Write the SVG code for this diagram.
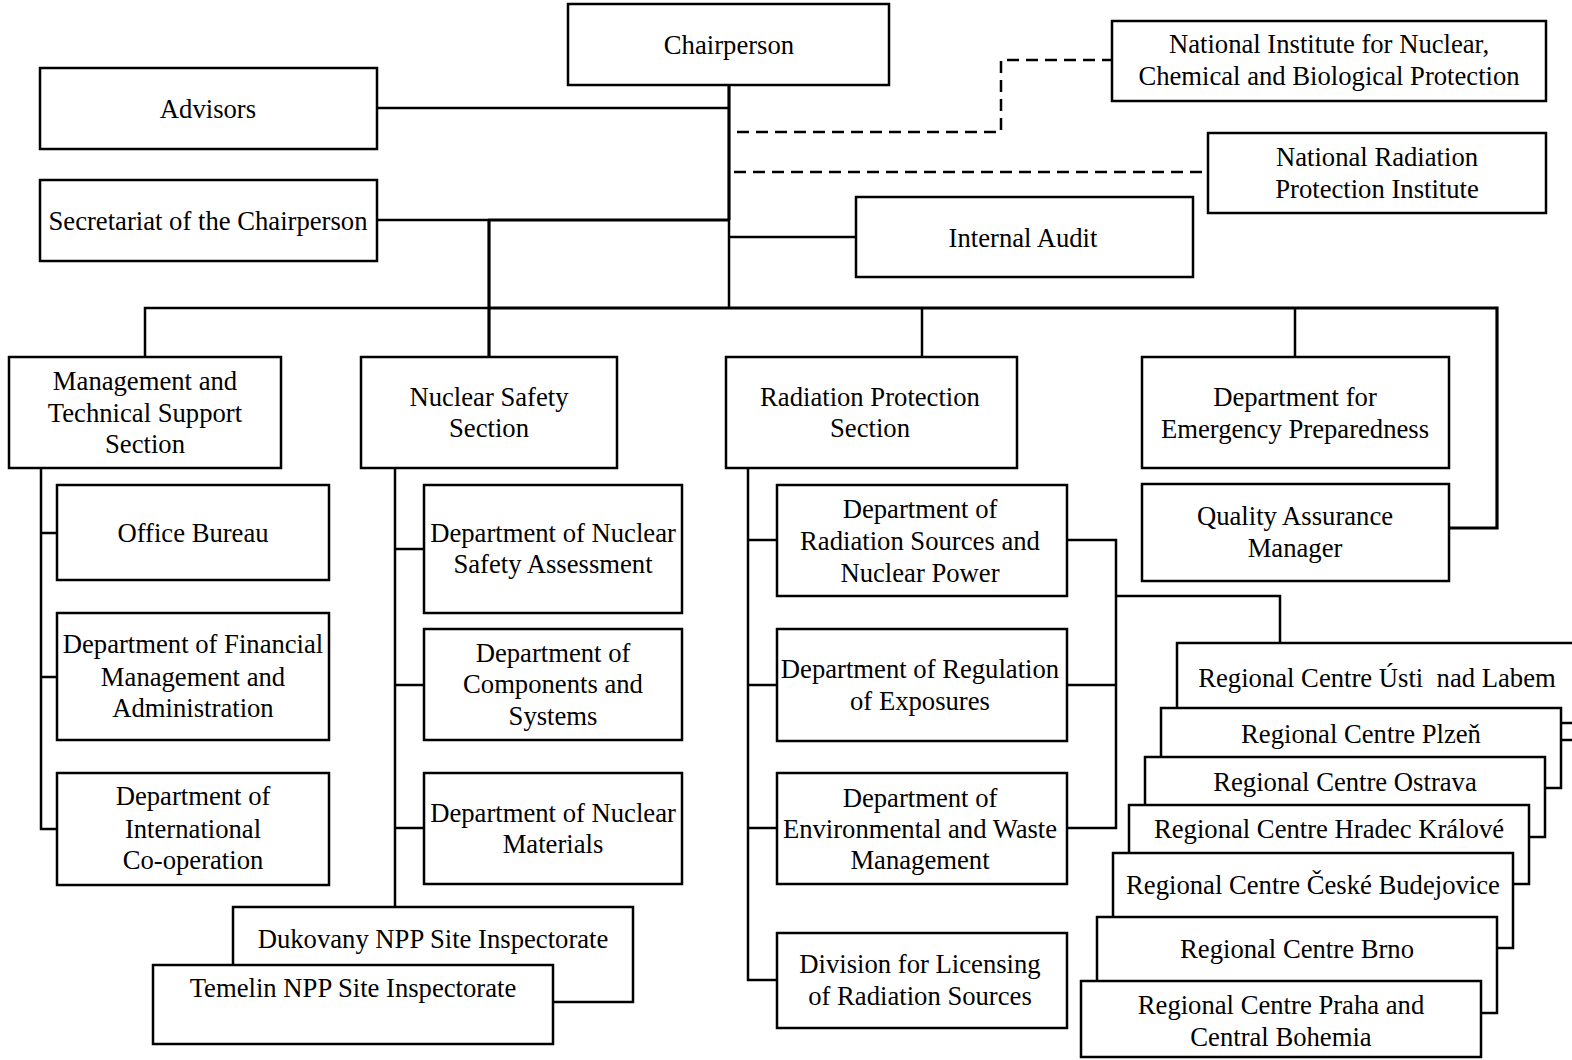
<svg xmlns="http://www.w3.org/2000/svg" width="1572" height="1060" viewBox="0 0 1572 1060">
<style>
.box{fill:#fff;stroke:#000;stroke-width:2.5}
.ln{fill:none;stroke:#000;stroke-width:2.5}
.thick{stroke-width:3.2}
.dash{stroke-dasharray:12 7}
text{font-family:"Liberation Serif","Times New Roman",serif;font-size:26.67px;text-anchor:middle;fill:#000}
</style>
<rect width="1572" height="1060" fill="#fff"/>
<g id="connectors">
<path class="ln thick" d="M729,85 V220"/>
<path class="ln" d="M729,220 V308"/>
<path class="ln" d="M377,108 H729"/>
<path class="ln" d="M377,220 H488"/>
<path class="ln thick" d="M488,220 H729"/>
<path class="ln thick" d="M489,220 V357"/>
<path class="ln" d="M729,237 H856"/>
<path class="ln dash" d="M737,132 H1001 V60 H1112"/>
<path class="ln dash" d="M734,172 H1208"/>
<path class="ln" d="M145,357 V308 H489"/>
<path class="ln thick" d="M489,308 H1497 V528 H1449"/>
<path class="ln" d="M922,308 V357"/>
<path class="ln" d="M1295,308 V357"/>
<path class="ln" d="M41,468 V829 H57 M41,533 H57 M41,677 H57"/>
<path class="ln" d="M395,468 V907 M395,549 H424 M395,685 H424 M395,828 H424"/>
<path class="ln" d="M748,468 V980 H777 M748,540 H777 M748,685 H777 M748,828 H777"/>
<path class="ln" d="M1067,540 H1116 V828 H1067 M1067,685 H1116 M1116,596 H1280 V643"/>
<path class="ln" d="M1561,740 H1572"/>
</g>
<g id="chairperson"><rect class="box" x="568" y="4" width="321" height="81"/><text x="729" y="54">Chairperson</text></g>
<g id="advisors"><rect class="box" x="40" y="68" width="337" height="81"/><text x="208" y="118">Advisors</text></g>
<g id="secretariat"><rect class="box" x="40" y="180" width="337" height="81"/><text x="208" y="230">Secretariat of the Chairperson</text></g>
<g id="ni-nbc"><rect class="box" x="1112" y="21" width="434" height="80"/><text x="1329" y="53">National Institute for Nuclear,</text><text x="1329" y="85">Chemical and Biological Protection</text></g>
<g id="nrpi"><rect class="box" x="1208" y="133" width="338" height="80"/><text x="1377" y="166">National Radiation</text><text x="1377" y="198">Protection Institute</text></g>
<g id="internal-audit"><rect class="box" x="856" y="197" width="337" height="80"/><text x="1023" y="247">Internal Audit</text></g>
<g id="mtss"><rect class="box" x="9" y="357" width="272" height="111"/><text x="145" y="390">Management and</text><text x="145" y="422">Technical Support</text><text x="145" y="453">Section</text></g>
<g id="nss"><rect class="box" x="361" y="357" width="256" height="111"/><text x="489" y="406">Nuclear Safety</text><text x="489" y="437">Section</text></g>
<g id="rps"><rect class="box" x="726" y="357" width="291" height="111"/><text x="870" y="406">Radiation Protection</text><text x="870" y="437">Section</text></g>
<g id="dep"><rect class="box" x="1142" y="357" width="307" height="111"/><text x="1295" y="406">Department for</text><text x="1295" y="438">Emergency Preparedness</text></g>
<g id="qa"><rect class="box" x="1142" y="484" width="307" height="97"/><text x="1295" y="525">Quality Assurance</text><text x="1295" y="557">Manager</text></g>
<g id="office-bureau"><rect class="box" x="57" y="485" width="272" height="95"/><text x="193" y="542">Office Bureau</text></g>
<g id="dfma"><rect class="box" x="57" y="613" width="272" height="127"/><text x="193" y="653">Department of Financial</text><text x="193" y="686">Management and</text><text x="193" y="717">Administration</text></g>
<g id="dic"><rect class="box" x="57" y="773" width="272" height="112"/><text x="193" y="805">Department of</text><text x="193" y="838">International</text><text x="193" y="869">Co-operation</text></g>
<g id="dnsa"><rect class="box" x="424" y="485" width="258" height="128"/><text x="553" y="542">Department of Nuclear</text><text x="553" y="573">Safety Assessment</text></g>
<g id="dcs"><rect class="box" x="424" y="629" width="258" height="111"/><text x="553" y="662">Department of</text><text x="553" y="693">Components and</text><text x="553" y="725">Systems</text></g>
<g id="dnm"><rect class="box" x="424" y="773" width="258" height="111"/><text x="553" y="822">Department of Nuclear</text><text x="553" y="853">Materials</text></g>
<g id="dukovany"><rect class="box" x="233" y="907" width="400" height="95"/><text x="433" y="948">Dukovany NPP Site Inspectorate</text></g>
<g id="temelin"><rect class="box" x="153" y="965" width="400" height="79"/><text x="353" y="997">Temelin NPP Site Inspectorate</text></g>
<g id="drsnp"><rect class="box" x="777" y="485" width="290" height="111"/><text x="920" y="518">Department of</text><text x="920" y="550">Radiation Sources and</text><text x="920" y="582">Nuclear Power</text></g>
<g id="dre"><rect class="box" x="777" y="629" width="290" height="112"/><text x="920" y="678">Department of Regulation</text><text x="920" y="710">of Exposures</text></g>
<g id="dewm"><rect class="box" x="777" y="773" width="290" height="111"/><text x="920" y="807">Department of</text><text x="920" y="838">Environmental and Waste</text><text x="920" y="869">Management</text></g>
<g id="dlrs"><rect class="box" x="777" y="933" width="290" height="95"/><text x="920" y="973">Division for Licensing</text><text x="920" y="1005">of Radiation Sources</text></g>
<g id="rc-usti"><rect class="box" x="1177" y="643" width="420" height="80"/><text x="1377" y="687" xml:space="preserve">Regional Centre Ústi  nad Labem</text></g>
<g id="rc-plzen"><rect class="box" x="1161" y="708" width="400" height="80"/><text x="1361" y="743">Regional Centre Plzeň</text></g>
<g id="rc-ostrava"><rect class="box" x="1145" y="757" width="400" height="80"/><text x="1345" y="791">Regional Centre Ostrava</text></g>
<g id="rc-hradec"><rect class="box" x="1129" y="805" width="400" height="79"/><text x="1329" y="838">Regional Centre Hradec Králové</text></g>
<g id="rc-cb"><rect class="box" x="1113" y="853" width="400" height="95"/><text x="1313" y="894">Regional Centre České Budejovice</text></g>
<g id="rc-brno"><rect class="box" x="1097" y="917" width="400" height="96"/><text x="1297" y="958">Regional Centre Brno</text></g>
<g id="rc-praha"><rect class="box" x="1081" y="981" width="400" height="76"/><text x="1281" y="1014">Regional Centre Praha and</text><text x="1281" y="1046">Central Bohemia</text></g>
</svg>
